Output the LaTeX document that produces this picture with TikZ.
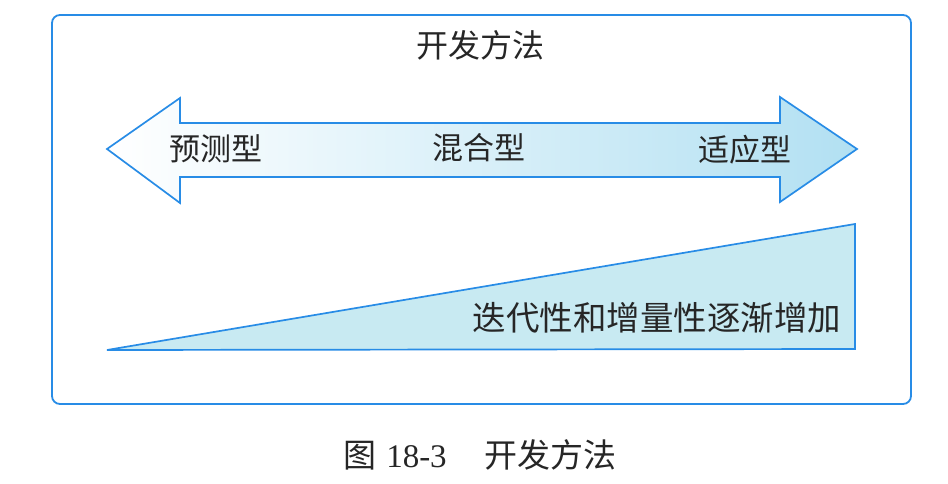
\documentclass[tikz,border=0pt]{standalone}
\usepackage{fontspec}
\setmainfont{Liberation Serif}
\newfontfamily\cjk{Noto Sans CJK SC}
\definecolor{lineblue}{RGB}{40,140,230}
\definecolor{fillblue}{RGB}{200,234,242}
\definecolor{shadeblue}{RGB}{178,224,242}

\begin{document}
\begin{tikzpicture}[
    x=1pt, y=-1pt,
    outline/.style={
        draw=lineblue,
        line width=1.7pt,
        line join=miter
    },
    cjklabel/.style={
        font=\cjk\fontsize{31}{33}\selectfont,
        text=black!85,
        inner sep=0pt
    }
]
\useasboundingbox (0,0) rectangle (948,484);

% Cornice esterna
\draw[lineblue, line width=1.8pt, rounded corners=8pt] (52,15) rectangle (911,404);
\node[cjklabel, font=\cjk\fontsize{32}{34}\selectfont] (title) at (480,45) {开发方法};

% Freccia a doppia punta
\path[outline, left color=white, middle color=shadeblue!40, right color=shadeblue]
    (107,149) -- (180,98) -- (180,123) -- (780,123) -- (780,97) -- (857,149)
    -- (780,202) -- (780,177) -- (180,177) -- (180,203) -- cycle;
\node[cjklabel] (predictive) at (216,149) {预测型};
\node[cjklabel] (hybrid) at (479,148) {混合型};
\node[cjklabel] (adaptive) at (745,150) {适应型};

% Triangolo crescente
\path[outline, fill=fillblue] (107,350) -- (855,224) -- (855,349) -- cycle;
\node[cjklabel, font=\cjk\fontsize{33.5}{36}\selectfont] (increase) at (657,318) {迭代性和增量性逐渐增加};

% Didascalia
\node[inner sep=0pt, font=\fontsize{33}{35}\selectfont, text=black!85] (caption) at (480,455)
    {{\cjk 图}\hspace{10pt}18-3\hspace{38pt}{\cjk 开发方法}};

\end{tikzpicture}
\end{document}
